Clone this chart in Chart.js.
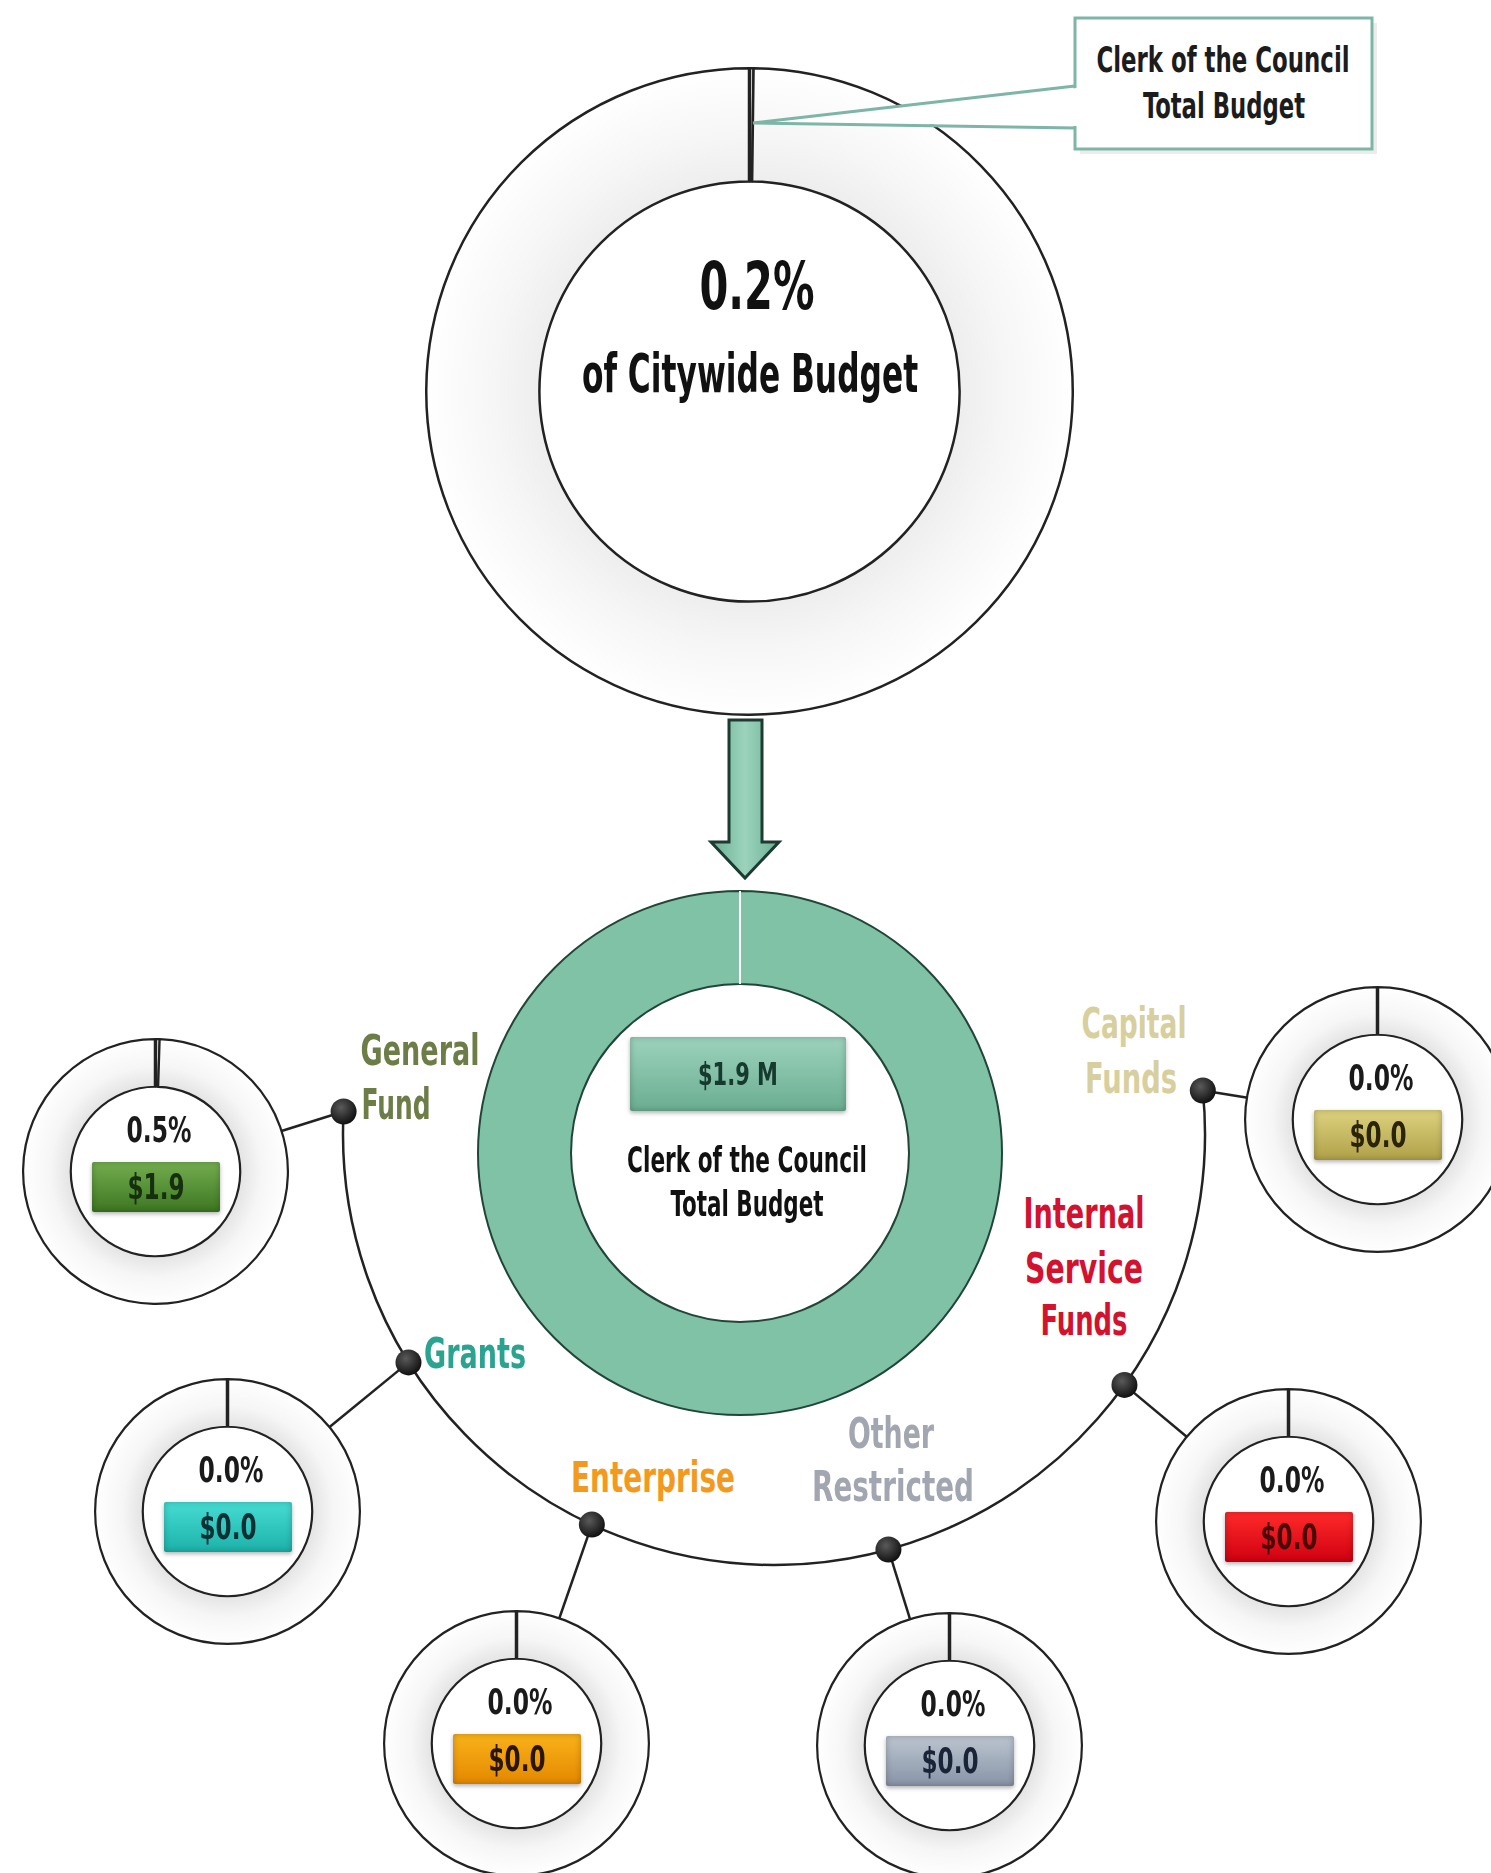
<!DOCTYPE html>
<html>
<head>
<meta charset="utf-8">
<title>Clerk of the Council Total Budget</title>
<script src="https://cdn.jsdelivr.net/npm/chart.js@4.4.1/dist/chart.umd.min.js"></script>
<style>
  html, body { margin: 0; padding: 0; background: #fff; }
  #stage { position: relative; width: 1491px; height: 1873px; overflow: hidden; background: #fff; }
  #stage canvas { position: absolute; }
  #deco, #callout { position: absolute; left: 0; top: 0; }
  .t { position: absolute; white-space: nowrap; line-height: 1; font-weight: bold; }
  .bar { position: absolute; border-radius: 2px; }
</style>
</head>
<body>
<div id="stage"><svg id="deco" width="1491" height="1873"></svg></div>
<script>
// ---- data ----
const title = "Clerk of the Council";
const subtitle = "Total Budget";
const citywidePct = 0.2;          // % of citywide budget
const totalAmt = 1.9;             // $ millions
const funds = ["General Fund", "Grants", "Enterprise", "Other Restricted", "Internal Service Funds", "Capital Funds"];
const fundPct = [0.5, 0.0, 0.0, 0.0, 0.0, 0.0];   // % of each citywide fund
const fundAmt = [1.9, 0.0, 0.0, 0.0, 0.0, 0.0];   // $ millions

// ---- look ----
const FONT = "'Liberation Sans Narrow','DejaVu Sans Condensed','Arial Narrow',sans-serif";
const labelColors = ["#6d7d48", "#2aa390", "#f39a1e", "#a2a6b0", "#d2122e", "#d8cf9e"];
const barColors = [
  ["#74ad4f", "#3c7621"],
  ["#46dcd3", "#1cb1a9"],
  ["#f9b21a", "#e48800"],
  ["#bcc5d1", "#8793a6"],
  ["#ff2a2a", "#cf0010"],
  ["#ddd27f", "#b0a148"],
];
const barText = ["#16300f", "#0d3035", "#2a1600", "#1a2438", "#4a0808", "#2a2408"];

// hub arc the fund dots sit on
const HUB = { x: 774, y: 1134, r: 431 };
const SUB_R = 131;
const subs = [
  { x: 155, y: 1171, ang: 183 },
  { x: 227, y: 1511, ang: 148 },
  { x: 516, y: 1743, ang: 115 },
  { x: 949, y: 1745, ang: 74.6 },
  { x: 1288, y: 1521, ang: 35.6 },
  { x: 1377, y: 1119, ang: -5.8 },
];
// one [cx, cy, width] per word of the fund name
const labelLines = [
  [[420, 1051, 119], [396, 1105, 69]],
  [[475, 1354, 102]],
  [[653, 1478, 164]],
  [[891, 1434, 86], [893, 1487, 162]],
  [[1084, 1214, 121], [1084, 1269, 118], [1084, 1321, 87]],
  [[1134, 1024, 105], [1131, 1079, 92]],
];

const stage = document.getElementById("stage");
const svg = document.getElementById("deco");
const mctx = document.createElement("canvas").getContext("2d");

function natWidth(str, size) {
  mctx.font = `bold ${size}px ${FONT}`;
  return mctx.measureText(str).width;
}

function addText(str, cx, cy, size, color, w) {
  const el = document.createElement("div");
  el.className = "t";
  el.textContent = str;
  el.style.fontFamily = FONT;
  el.style.fontSize = size + "px";
  el.style.color = color;
  el.style.left = cx + "px";
  el.style.top = cy + "px";
  const k = w ? w / natWidth(str, size) : 1;
  el.style.transform = `translate(-50%,-50%) scaleX(${k.toFixed(3)})`;
  stage.appendChild(el);
  return el;
}

function addBar(cx, cy, w, h, top, bot) {
  const el = document.createElement("div");
  el.className = "bar";
  el.style.left = (cx - w / 2) + "px";
  el.style.top = (cy - h / 2) + "px";
  el.style.width = w + "px";
  el.style.height = h + "px";
  el.style.background = `linear-gradient(180deg, ${top} 0%, ${bot} 100%)`;
  el.style.boxShadow = `inset 0 0 6px rgba(0,0,0,0.25), 0 2px 4px rgba(0,0,0,0.3)`;
  stage.appendChild(el);
}

// light ring shading like the original
function ringFill(dark) {
  return (c) => {
    const ch = c.chart, a = ch.chartArea;
    if (!a) return "#f7f7f7";
    const cx = (a.left + a.right) / 2, cy = (a.top + a.bottom) / 2;
    const R = Math.min(a.width, a.height) / 2;
    const g = ch.ctx.createRadialGradient(cx, cy, R * 0.62, cx, cy, R);
    g.addColorStop(0, dark);
    g.addColorStop(0.45, "#f6f6f6");
    g.addColorStop(1, "#ffffff");
    return g;
  };
}

// radial tick where the first slice starts (12 o'clock)
const dividerPlugin = {
  id: "divider",
  afterDatasetsDraw(chart, args, opts) {
    const arc = chart.getDatasetMeta(0).data[0];
    if (!arc) return;
    const p = arc.getProps(["x", "y", "startAngle", "innerRadius", "outerRadius"], true);
    const c = chart.ctx;
    c.save();
    c.strokeStyle = opts.color;
    c.lineWidth = opts.width;
    c.beginPath();
    c.moveTo(p.x + Math.cos(p.startAngle) * p.innerRadius, p.y + Math.sin(p.startAngle) * p.innerRadius);
    c.lineTo(p.x + Math.cos(p.startAngle) * p.outerRadius, p.y + Math.sin(p.startAngle) * p.outerRadius);
    c.stroke();
    c.restore();
  },
};

function makeDonut(cx, cy, r, values, fill, cutout, line, divider) {
  const size = Math.ceil(2 * r + line.width + 2);
  const cv = document.createElement("canvas");
  cv.width = size;
  cv.height = size;
  cv.style.left = (cx - size / 2) + "px";
  cv.style.top = (cy - size / 2) + "px";
  cv.style.width = size + "px";
  cv.style.height = size + "px";
  stage.appendChild(cv);
  return new Chart(cv, {
    type: "doughnut",
    data: {
      labels: values.map((v, i) => "s" + i),
      datasets: [{
        data: values,
        backgroundColor: fill,
        borderColor: line.color,
        borderWidth: line.width,
      }],
    },
    options: {
      responsive: false,
      animation: false,
      events: [],
      cutout: cutout,
      layout: { padding: 0 },
      plugins: {
        legend: { display: false },
        tooltip: { enabled: false },
        divider: divider,
      },
    },
    plugins: [dividerPlugin],
  });
}

// ---- decoration under the rings (svg) ----
const rad = (d) => d * Math.PI / 180;
const dots = subs.map((s) => ({ x: HUB.x + HUB.r * Math.cos(rad(s.ang)), y: HUB.y + HUB.r * Math.sin(rad(s.ang)) }));
const first = dots[dots.length - 1], last = dots[0];
let html = `
<defs>
  <radialGradient id="dotG" cx="40%" cy="35%" r="65%"><stop offset="0" stop-color="#5a5a5a"/><stop offset="1" stop-color="#111"/></radialGradient>
  <linearGradient id="arrowG" x1="0" x2="1" y1="0" y2="0"><stop offset="0" stop-color="#6cb094"/><stop offset="0.5" stop-color="#9bd3bc"/><stop offset="1" stop-color="#6cb094"/></linearGradient>
</defs>
<path d="M ${first.x} ${first.y} A ${HUB.r} ${HUB.r} 0 1 1 ${last.x} ${last.y}" fill="none" stroke="#222" stroke-width="2.5"/>`;
subs.forEach((s, i) => {
  const d = dots[i];
  const dx = d.x - s.x, dy = d.y - s.y, L = Math.hypot(dx, dy);
  const ex = s.x + dx / L * SUB_R, ey = s.y + dy / L * SUB_R;
  html += `<line x1="${d.x}" y1="${d.y}" x2="${ex}" y2="${ey}" stroke="#222" stroke-width="2.5"/>`;
});
dots.forEach((d) => { html += `<circle cx="${d.x}" cy="${d.y}" r="13" fill="url(#dotG)"/>`; });
// arrow between the two rings
html += `<polygon points="729,720 762,720 762,842 779,842 745,878 711,842 729,842" fill="url(#arrowG)" stroke="#1d3b33" stroke-width="3" stroke-linejoin="miter"/>`;
svg.innerHTML = html;

// ---- charts ----
makeDonut(749, 391, 322, [citywidePct, 100 - citywidePct], ringFill("#ececec"), "65%",
  { color: "#222", width: 2.5 }, { color: "#222", width: 3.5 });
makeDonut(740, 1153, 261, [totalAmt], "#7fc2a6", "64.5%",
  { color: "#22453a", width: 2 }, { color: "#ffffff", width: 2 });
subs.forEach((s, i) => {
  makeDonut(s.x, s.y, SUB_R, [fundPct[i], 100 - fundPct[i]], ringFill("#e2e2e2"), "64%",
    { color: "#222", width: 2.2 }, { color: "#222", width: 3.5 });
});

// ---- callout on top of the big ring ----
const co = document.createElementNS("http://www.w3.org/2000/svg", "svg");
co.setAttribute("id", "callout");
co.setAttribute("width", "1491");
co.setAttribute("height", "200");
co.innerHTML = `<rect x="1080" y="23" width="297" height="131" fill="#ececec"/>
<rect x="1075" y="18" width="297" height="131" fill="#fff" stroke="#7db5a7" stroke-width="3"/>
<polygon points="1077,88 755,123 1077,126" fill="#fff"/>
<polyline points="1075,86 753,123 1075,128" fill="none" stroke="#7db5a7" stroke-width="3"/>`;
stage.appendChild(co);

// ---- text ----
addText(title, 1223, 60, 36, "#1c1c1c", 253);
addText(subtitle, 1224, 106, 36, "#1c1c1c", 162);
addText(citywidePct.toFixed(1) + "%", 757, 287, 66, "#111", 115);
addText("of Citywide Budget", 750, 374, 54, "#111", 336);

addBar(738, 1074, 216, 74, "#9dd2bd", "#6aae91");
addText("$" + totalAmt.toFixed(1) + " M", 738, 1074, 32, "#163a2e", 80);
addText(title, 747, 1160, 36, "#111", 240);
addText(subtitle, 747, 1204, 36, "#111", 153);

const pctRef = natWidth("0.0%", 36), amtRef = natWidth("$0.0", 36);
subs.forEach((s, i) => {
  const pct = fundPct[i].toFixed(1) + "%";
  const amt = "$" + fundAmt[i].toFixed(1);
  addText(pct, s.x + 4, s.y - 41, 36, "#1a1a1a", 65 * natWidth(pct, 36) / pctRef);
  addBar(s.x + 1, s.y + 16, 128, 50, barColors[i][0], barColors[i][1]);
  addText(amt, s.x + 1, s.y + 16, 36, barText[i], 57 * natWidth(amt, 36) / amtRef);
  const words = funds[i].split(" ");
  words.forEach((w, j) => {
    const [cx, cy, tw] = labelLines[i][j];
    addText(w, cx, cy, 42, labelColors[i], tw);
  });
});
</script>
</body>
</html>
